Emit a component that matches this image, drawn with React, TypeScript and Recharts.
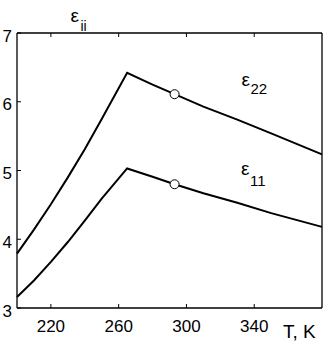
import React from 'react';
import { LineChart, Line, XAxis, YAxis } from 'recharts';

// temperature, K
const temps = [200, 210, 220, 230, 240, 250, 265, 280, 293, 310, 330, 350, 380];
// permittivity components
const eps22 = [3.79, 4.14, 4.51, 4.90, 5.31, 5.75, 6.42, 6.25, 6.11, 5.93, 5.74, 5.54, 5.235];
const eps11 = [3.16, 3.40, 3.67, 3.96, 4.27, 4.59, 5.03, 4.91, 4.80, 4.67, 4.53, 4.38, 4.18];
const markerT = 293;

const xTicks = [220, 260, 300, 340];
const yTicks = [3, 4, 5, 6, 7];

const data = temps.map((T, i) => ({ T, e22: eps22[i], e11: eps11[i] }));

const FONT = '"Liberation Sans", Arial, sans-serif';
const TICK = 4;

const BottomTick = (p: any) => (
  <g>
    <line x1={p.x} y1={p.y} x2={p.x} y2={p.y - TICK} stroke="#000" strokeWidth={1} />
    <text x={p.x} y={p.y + 24} textAnchor="middle" fontSize={17} fontFamily={FONT} fill="#000">
      {p.payload.value}
    </text>
  </g>
);

const TopTick = (p: any) => (
  <line x1={p.x} y1={p.y} x2={p.x} y2={p.y + TICK} stroke="#000" strokeWidth={1} />
);

const LeftTick = (p: any) => (
  <g>
    <line x1={p.x} y1={p.y} x2={p.x + TICK} y2={p.y} stroke="#000" strokeWidth={1} />
    <text x={p.x - 5} y={p.y + 8.5} textAnchor="end" fontSize={17} fontFamily={FONT} fill="#000">
      {p.payload.value}
    </text>
  </g>
);

const RightTick = (p: any) => (
  <line x1={p.x} y1={p.y} x2={p.x - TICK} y2={p.y} stroke="#000" strokeWidth={1} />
);

const Marker = (p: any) =>
  p.payload.T === markerT ? (
    <circle key={p.key} cx={p.cx} cy={p.cy} r={4.5} fill="#fff" stroke="#000" strokeWidth={1} />
  ) : (
    <g key={p.key} />
  );

export default function App() {
  const axisLine = { stroke: '#000', strokeWidth: 1.3 };
  return (
    <div style={{ position: 'absolute', left: 0, top: 0, width: 335, height: 343, background: '#fff' }}>
      <LineChart width={335} height={343} data={data} margin={{ top: 32, left: 16, right: 12, bottom: 34 }}>
        <XAxis
          xAxisId="b"
          dataKey="T"
          type="number"
          domain={[200, 380]}
          ticks={xTicks}
          height={1}
          tickSize={0}
          tickMargin={0}
          axisLine={axisLine}
          tickLine={false}
          tick={BottomTick}
        />
        <XAxis
          xAxisId="t"
          dataKey="T"
          type="number"
          orientation="top"
          domain={[200, 380]}
          ticks={xTicks}
          height={1}
          tickSize={0}
          tickMargin={0}
          axisLine={axisLine}
          tickLine={false}
          tick={TopTick}
        />
        <YAxis
          yAxisId="l"
          type="number"
          domain={[3, 7]}
          ticks={yTicks}
          width={1}
          tickSize={0}
          tickMargin={0}
          axisLine={axisLine}
          tickLine={false}
          tick={LeftTick}
        />
        <YAxis
          yAxisId="r"
          type="number"
          orientation="right"
          domain={[3, 7]}
          ticks={yTicks}
          width={1}
          tickSize={0}
          tickMargin={0}
          axisLine={axisLine}
          tickLine={false}
          tick={RightTick}
        />
        <Line xAxisId="b" yAxisId="l" type="linear" dataKey="e22" stroke="#000" strokeWidth={2}
          dot={Marker} activeDot={false} isAnimationActive={false} />
        <Line xAxisId="b" yAxisId="l" type="linear" dataKey="e11" stroke="#000" strokeWidth={2}
          dot={Marker} activeDot={false} isAnimationActive={false} />
      </LineChart>
      <svg width={335} height={343} style={{ position: 'absolute', left: 0, top: 0, pointerEvents: 'none' }}>
        <g fontFamily={FONT} fill="#000">
          <text x={70.5} y={21.5} fontSize={19}>ε</text>
          <text x={80.5} y={30.5} fontSize={14}>ii</text>
          <text x={241.5} y={85.5} fontSize={19}>ε</text>
          <text x={250.5} y={94.3} fontSize={15}>22</text>
          <text x={241} y={175} fontSize={19}>ε</text>
          <text x={250} y={186} fontSize={15}>11</text>
          <text x={283} y={338} fontSize={19}>T, K</text>
        </g>
      </svg>
    </div>
  );
}
